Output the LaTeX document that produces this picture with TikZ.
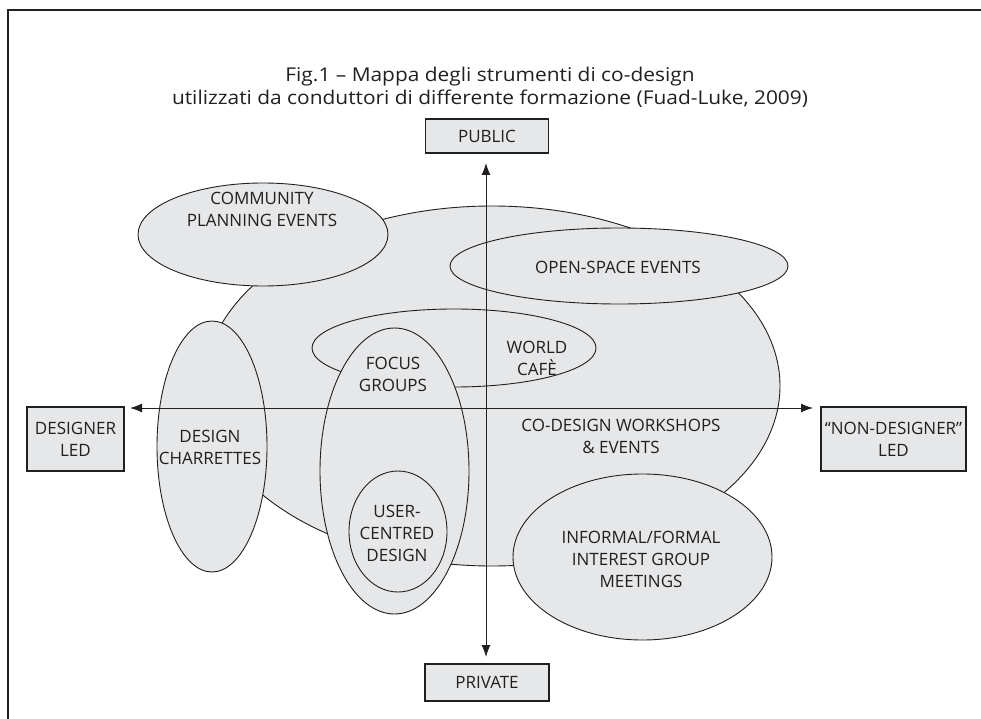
\documentclass[tikz,border=0pt]{standalone}
\usepackage{fontspec}
\setmainfont{Open Sans}
\newfontfamily\titlefont{Open Sans}[FakeStretch=1.1]
\usetikzlibrary{shapes.geometric,arrows.meta}
\definecolor{fillgray}{HTML}{E6E7E8}
\definecolor{ink}{HTML}{231F20}
\begin{document}
\begin{tikzpicture}[x=1pt,y=-1pt,
  bub/.style={ellipse, draw=ink, fill=fillgray, line width=0.9pt, inner sep=0pt},
  lab/.style={align=center, text=ink, font=\fontsize{17}{22}\selectfont, inner sep=0pt},
  endbox/.style={rectangle, draw=ink, fill=fillgray, line width=1.2pt, align=center, text=ink, font=\fontsize{17}{22}\selectfont, inner sep=0pt},
  axisline/.style={draw=ink, line width=1pt, {Latex[length=12pt,width=9pt]}-{Latex[length=12pt,width=9pt]}},
  frameline/.style={draw=ink, line width=1.6pt}
]
\useasboundingbox (0,0) rectangle (981,719);
\fill[white] (0,0) rectangle (981,719);
\coordinate (f1) at (8,719);
\coordinate (f2) at (8,10);
\coordinate (f3) at (981,10);
\draw[frameline] (f1) -- (f2) -- (f3);

\node[align=center, text=ink, font=\titlefont\fontsize{19}{23}\selectfont, inner sep=0pt] (title) at (490,87)
  {Fig.1 – Mappa degli strumenti di co-design\\utilizzati da conduttori di differente formazione (Fuad-Luke, 2009)};

% ellipses
\node[bub, minimum width=576pt, minimum height=360pt] (big) at (492,386) {};
\node[bub, minimum width=250pt, minimum height=103pt] (comm) at (263,234.5) {};
\node[bub, minimum width=338pt, minimum height=76pt] (open) at (619,266) {};
\node[bub, minimum width=284pt, minimum height=78pt] (cafe) at (454,348) {};
\node[bub, minimum width=149pt, minimum height=286pt] (focus) at (394.5,471) {};
\node[bub, minimum width=98pt, minimum height=121pt] (user) at (398,531.5) {};
\node[bub, minimum width=110pt, minimum height=251pt] (charr) at (212,446.5) {};
\node[bub, minimum width=259pt, minimum height=166pt] (inform) at (642.5,557) {};

% labels
\node[lab] (tcomm) at (262,209) {COMMUNITY\\PLANNING EVENTS};
\node[lab] (topen) at (618,267) {OPEN-SPACE EVENTS};
\node[lab] (tcafe) at (537,358) {WORLD\\CAFÈ};
\node[lab] (tfocus) at (393,374) {FOCUS\\GROUPS};
\node[lab] (tuser) at (397,533) {USER-\\CENTRED\\DESIGN};
\node[lab] (tcharr) at (210,447) {DESIGN\\CHARRETTES};
\node[lab] (tbig) at (621,436) {CO-DESIGN WORKSHOPS\\\& EVENTS};
\node[lab] (tinform) at (641,559) {INFORMAL/FORMAL\\INTEREST GROUP\\MEETINGS};

% end boxes
\node[endbox, minimum width=123pt, minimum height=34pt] (public) at (487,136) {PUBLIC};
\node[endbox, minimum width=124pt, minimum height=37pt] (private) at (487,682.5) {PRIVATE};
\node[endbox, minimum width=97pt, minimum height=64pt] (designer) at (75.5,439) {DESIGNER\\LED};
\node[endbox, minimum width=145pt, minimum height=64pt] (nondesigner) at (893.5,439) {“NON-DESIGNER”\\LED};

% axes
\coordinate (vtop) at (486,163);
\coordinate (vbot) at (486,657);
\coordinate (hleft) at (130,408);
\coordinate (hright) at (813,408);
\draw[axisline] (vbot) -- (vtop);
\draw[axisline] (hleft) -- (hright);
\end{tikzpicture}
\end{document}
